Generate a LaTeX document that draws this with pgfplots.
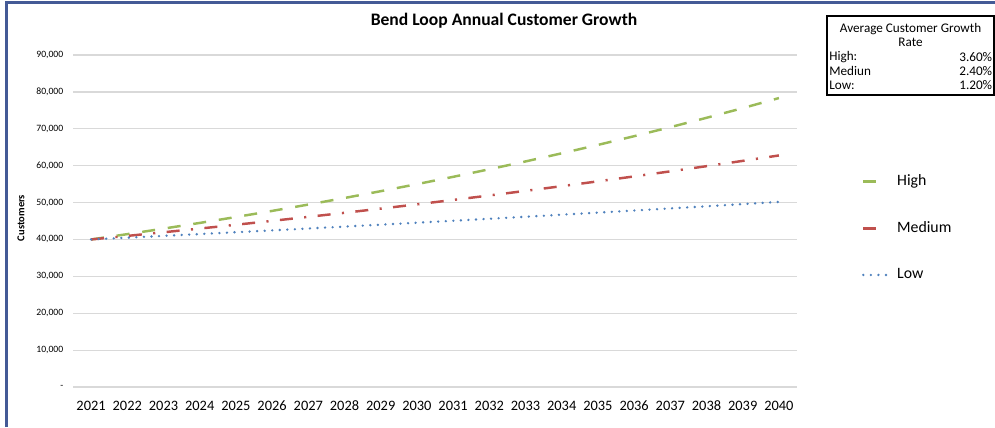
\documentclass[border=0pt]{standalone}
\usepackage{fontspec}
\setmainfont{Carlito}
\usepackage{pgfplots}
\pgfplotsset{compat=1.18}

\definecolor{highc}{RGB}{155,187,89}
\definecolor{medc}{RGB}{192,80,77}
\definecolor{lowc}{RGB}{79,129,189}
\definecolor{gridc}{RGB}{217,217,217}
\definecolor{framec}{RGB}{68,90,150}

\pgfplotsset{
  shortleg/.style={legend image code/.code={\draw[##1, solid] (0cm,0cm) -- (0.26cm,0cm);}},
  longleg/.style={legend image code/.code={\draw[##1] (0cm,0cm) -- (0.58cm,0cm);}},
}

\begin{document}
\begin{tikzpicture}
  \path[use as bounding box] (0,0) rectangle (19.9,8.54);
  % chart frame (left and top edge)
  \draw[framec, line width=1.3pt] (0.13,0) -- (0.13,8.49) -- (19.9,8.49);

  \begin{axis}[
    at={(1.46cm,0.80cm)}, anchor=south west,
    scale only axis,
    width=14.48cm, height=6.64cm,
    xmin=2020.5, xmax=2040.5,
    ymin=0, ymax=90000,
    scaled y ticks=false,
    axis line style={draw=none},
    major tick length=0pt,
    ymajorgrids=true,
    grid style={gridc, line width=0.7pt},
    xtick={2021,2022,2023,2024,2025,2026,2027,2028,2029,2030,2031,2032,2033,2034,2035,2036,2037,2038,2039,2040},
    xticklabels={2021,2022,2023,2024,2025,2026,2027,2028,2029,2030,2031,2032,2033,2034,2035,2036,2037,2038,2039,2040},
    ytick={0,10000,20000,30000,40000,50000,60000,70000,80000,90000},
    yticklabels={-,{10,000},{20,000},{30,000},{40,000},{50,000},{60,000},{70,000},{80,000},{90,000}},
    xticklabel style={font=\fontsize{8.2}{9}\selectfont, text height=6pt, text depth=0pt, yshift=-4pt},
    yticklabel style={font=\fontsize{5.5}{6}\selectfont, xshift=-2pt},
    legend style={at={(1.082,0.479)}, anchor=west, draw=none, fill=none,
      font=\fontsize{9}{10}\selectfont, row sep=15pt},
    legend cell align={left},
  ]
    % High: 3.6% growth
    \addplot[highc, line width=1.4pt, dash pattern=on 7.4pt off 7.3pt, shortleg]
    coordinates {
      (2021,40000) (2022,41440) (2023,42932) (2024,44477) (2025,46079)
      (2026,47737) (2027,49456) (2028,51236) (2029,53081) (2030,54992)
      (2031,56971) (2032,59022) (2033,61147) (2034,63349) (2035,65629)
      (2036,67992) (2037,70439) (2038,72975) (2039,75602) (2040,78324)
    };
    \addlegendentry{High}
    % Medium: 2.4% growth
    \addplot[medc, line width=1.4pt, dash pattern=on 7.4pt off 6.5pt on 1.2pt off 6.5pt, shortleg]
    coordinates {
      (2021,40000) (2022,40960) (2023,41943) (2024,42950) (2025,43980)
      (2026,45036) (2027,46117) (2028,47224) (2029,48357) (2030,49518)
      (2031,50706) (2032,51923) (2033,53169) (2034,54445) (2035,55752)
      (2036,57090) (2037,58460) (2038,59863) (2039,61300) (2040,62771)
    };
    \addlegendentry{Medium}
    % Low: 1.2% growth
    \addplot[lowc, line width=1.5pt, line cap=round, dash pattern=on 0pt off 4.3pt, longleg]
    coordinates {
      (2021,40000) (2022,40480) (2023,40966) (2024,41457) (2025,41955)
      (2026,42458) (2027,42968) (2028,43483) (2029,44005) (2030,44533)
      (2031,45068) (2032,45609) (2033,46156) (2034,46710) (2035,47270)
      (2036,47837) (2037,48412) (2038,48992) (2039,49580) (2040,50175)
    };
    \addlegendentry{Low}
  \end{axis}

  % title and y label
  \node[font=\bfseries\fontsize{10}{12}\selectfont] at (10.08,8.13) {Bend Loop Annual Customer Growth};
  \node[font=\bfseries\fontsize{6}{7}\selectfont, rotate=90] at (0.42,4.18) {Customers};

  % growth rate table
  \draw[black, line width=0.6pt] (16.54,6.64) rectangle (19.88,8.22);
  \begin{scope}[every node/.style={font=\fontsize{7.5}{8}\selectfont, inner sep=0pt}]
    \node at (18.21,7.96) {Average Customer Growth};
    \node at (18.21,7.70) {Rate};
    \node[anchor=west] at (16.58,7.40) {High:};
    \node[anchor=east] at (19.85,7.40) {3.60\%};
    \node[anchor=west] at (16.58,7.12) {Mediun};
    \node[anchor=east] at (19.85,7.12) {2.40\%};
    \node[anchor=west] at (16.58,6.83) {Low:};
    \node[anchor=east] at (19.85,6.83) {1.20\%};
  \end{scope}
\end{tikzpicture}
\end{document}
